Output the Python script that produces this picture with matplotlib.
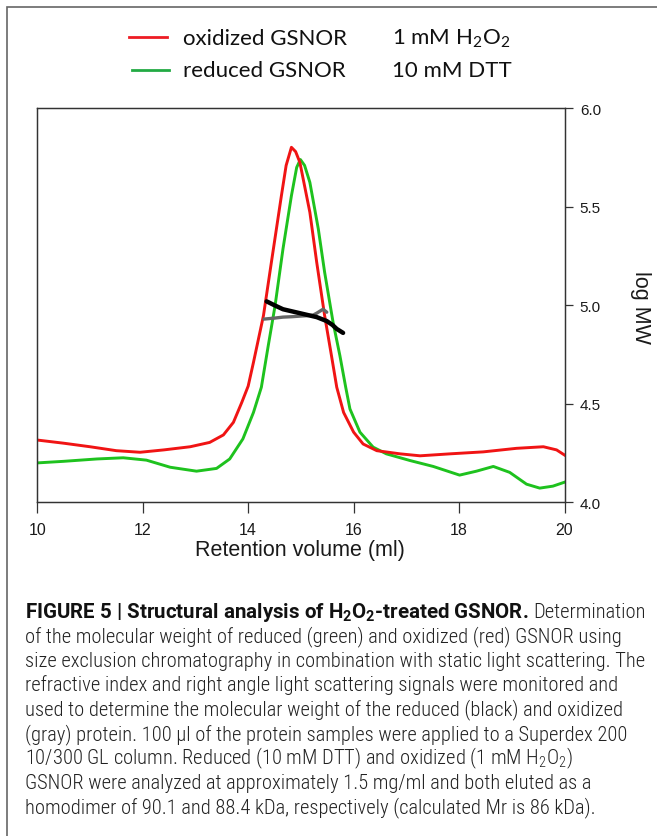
import matplotlib
matplotlib.use('Agg')
import matplotlib.pyplot as plt
from matplotlib.lines import Line2D
from matplotlib.patches import Rectangle
from matplotlib.ticker import FormatStrFormatter
from matplotlib import font_manager

plt.rcParams['mathtext.default'] = 'regular'

# ---------------- data ----------------
vol_oxidized = [10.0, 10.5, 11.0, 11.5, 11.95, 12.4, 12.9, 13.27, 13.53, 13.72, 13.88, 14.0,
                14.1, 14.29, 14.44, 14.63, 14.72, 14.82, 14.9, 14.98, 15.17, 15.3, 15.45,
                15.58, 15.68, 15.81, 16.0, 16.18, 16.44, 16.88, 17.26, 17.83, 18.46, 19.09,
                19.6, 19.85, 20.0]
sig_oxidized = [15.8, 15.0, 14.1, 13.1, 12.7, 13.3, 14.1, 15.2, 17.1, 20.3, 25.4, 29.5,
                35.5, 47.4, 60.9, 77.8, 85.5, 90.1, 89.0, 86.3, 73.6, 60.9, 47.4,
                37.2, 29.2, 22.8, 17.8, 14.8, 13.1, 12.3, 11.8, 12.3, 12.8, 13.7,
                14.1, 13.3, 12.0]

vol_reduced = [10.0, 10.5, 11.13, 11.63, 12.07, 12.52, 13.02, 13.4, 13.65, 13.9, 14.1, 14.25,
               14.38, 14.51, 14.66, 14.82, 14.92, 14.99, 15.07, 15.17, 15.33, 15.45, 15.61,
               15.74, 15.85, 15.93, 16.12, 16.37, 16.62, 17.07, 17.51, 18.01, 18.33, 18.65,
               18.96, 19.28, 19.53, 19.78, 20.0]
sig_reduced = [10.0, 10.4, 11.0, 11.3, 10.7, 8.9, 7.9, 8.6, 11.0, 16.1, 22.8, 29.2,
               39.7, 49.9, 64.3, 77.8, 85.0, 87.0, 85.5, 81.2, 69.4, 58.4, 45.7,
               37.2, 29.2, 23.7, 17.8, 14.0, 12.3, 10.6, 9.1, 6.9, 7.9, 9.1,
               7.6, 4.6, 3.6, 4.1, 5.1]

mw_vol_reduced = [14.35, 14.5, 14.66, 14.82, 14.98, 15.14, 15.3, 15.49, 15.6, 15.68, 15.8]
logmw_reduced = [5.02, 5.0, 4.98, 4.97, 4.96, 4.95, 4.94, 4.92, 4.9, 4.88, 4.86]
mw_vol_oxidized = [14.3, 14.5, 14.66, 14.82, 14.98, 15.1, 15.23, 15.3, 15.36, 15.42, 15.49]
logmw_oxidized = [4.93, 4.935, 4.94, 4.942, 4.945, 4.947, 4.95, 4.96, 4.97, 4.98, 4.965]

x_ticks = [10, 12, 14, 16, 18, 20]
y_ticks = [4.0, 4.5, 5.0, 5.5, 6.0]

legend_names = ['oxidized GSNOR', 'reduced GSNOR']
legend_conditions = ['1 mM H$_2$O$_2$', '10 mM DTT']

caption_bold = 'FIGURE 5 | Structural analysis of H$_2$O$_2$-treated GSNOR.'
caption_lines = [
    'Determination',
    'of the molecular weight of reduced (green) and oxidized (red) GSNOR using',
    'size exclusion chromatography in combination with static light scattering. The',
    'refractive index and right angle light scattering signals were monitored and',
    'used to determine the molecular weight of the reduced (black) and oxidized',
    '(gray) protein. 100 \u03bcl of the protein samples were applied to a Superdex 200',
    '10/300 GL column. Reduced (10 mM DTT) and oxidized (1 mM H$_2$O$_2$)',
    'GSNOR were analyzed at approximately 1.5 mg/ml and both eluted as a',
    'homodimer of 90.1 and 88.4 kDa, respectively (calculated Mr is 86 kDa).',
]

# ---------------- figure ----------------
W, H = 657, 837
fig = plt.figure(figsize=(W / 100, H / 100), dpi=100)
fig.patch.set_facecolor('white')


def fx(px):
    return px / W


def fy(py):
    return 1 - py / H


# pick a condensed family for the caption if one is installed
installed = {f.name for f in font_manager.fontManager.ttflist}
cap_font = 'Liberation Sans'
for cand in ['Roboto Condensed', 'Liberation Sans Narrow', 'Open Sans Condensed',
             'Noto Sans Condensed', 'DejaVu Sans Condensed']:
    if cand in installed:
        cap_font = cand
        break
bold_font = 'Roboto' if 'Roboto' in installed else 'Liberation Sans'

# outer border
fig.add_artist(Rectangle((fx(7), -0.1), 1.2, fy(8) + 0.1, transform=fig.transFigure,
                         fill=False, edgecolor='#666666', lw=1.2))

axis_font = 'Liberation Sans'
ax = fig.add_axes([fx(37.3), fy(503.3), fx(564.5) - fx(37.3), fy(109.3) - fy(503.3)])
ax.plot(vol_oxidized, sig_oxidized, color='#f01414', lw=2.1, zorder=3)
ax.plot(vol_reduced, sig_reduced, color='#1ec21e', lw=2.1, zorder=2)
ax.set_xlim(10, 20)
ax.set_ylim(0, 100)
ax.set_yticks([])
ax.set_xticks(x_ticks)
ax.set_xticklabels([str(v) for v in x_ticks], family=axis_font)
ax.tick_params(axis='x', direction='out', length=8, width=0.9, pad=6, labelsize=11.5,
               colors='#333333', labelcolor='#1a1a1a')
for s in ax.spines.values():
    s.set_color('#333333')
    s.set_linewidth(0.9)

ax2 = ax.twinx()
ax2.plot(mw_vol_oxidized, logmw_oxidized, color='#666666', lw=2.4, solid_capstyle='round')
ax2.plot(mw_vol_reduced, logmw_reduced, color='black', lw=3.2, solid_capstyle='round')
ax2.set_ylim(4.0, 6.0)
ax2.set_yticks(y_ticks)
ax2.yaxis.set_major_formatter(FormatStrFormatter('%.1f'))
for lab in ax2.get_yticklabels():
    lab.set_family(axis_font)
ax2.tick_params(axis='y', direction='out', length=6, width=0.9, pad=5, labelsize=11,
                colors='#333333', labelcolor='#1a1a1a')
for s in ax2.spines.values():
    s.set_color('#333333')
    s.set_linewidth(0.9)

fig.text(fx(300), fy(551), 'Retention volume (ml)', family=axis_font, fontsize=15.5,
         ha='center', va='center', color='#1a1a1a')
fig.text(fx(640), fy(307), 'log MW', family=axis_font, fontsize=15.5, rotation=270,
         ha='center', va='center', color='#1a1a1a')

# legend
leg_font = 'Lato'
leg_colors = ['#ee1c24', '#22aa44']
leg_line_x = [(129, 167), (131.5, 169)]
leg_line_y = [38.3, 70.7]
leg_base_y = [45, 77]
for i in range(2):
    fig.add_artist(Line2D([fx(leg_line_x[i][0]), fx(leg_line_x[i][1])],
                          [fy(leg_line_y[i]), fy(leg_line_y[i])],
                          transform=fig.transFigure, color=leg_colors[i], lw=2))
    fig.text(fx(183), fy(leg_base_y[i]), legend_names[i], family=leg_font, fontsize=16,
             ha='left', va='baseline', color='#111111')
    fig.text(fx(392), fy(leg_base_y[i]), legend_conditions[i], family=leg_font, fontsize=16,
             ha='left', va='baseline', color='#111111')

# caption
renderer = fig.canvas.get_renderer()
probe = fig.text(0, 0, caption_lines[2], family=cap_font, fontsize=10, fontweight=300)
w10 = probe.get_window_extent(renderer).width
probe.remove()
cap_fs = 10 * 620 / w10

x0 = 25
base0 = 618
step = 24.4
tb = fig.text(fx(x0), fy(base0), caption_bold, family=bold_font, fontsize=cap_fs * 1.0,
              fontweight='bold', ha='left', va='baseline', color='#111111')
bb = tb.get_window_extent(renderer)
p1 = fig.text(0, 0, 'a a', family=cap_font, fontsize=cap_fs, fontweight=300)
p2 = fig.text(0, 0, 'aa', family=cap_font, fontsize=cap_fs, fontweight=300)
space_w = p1.get_window_extent(renderer).width - p2.get_window_extent(renderer).width
p1.remove()
p2.remove()
fig.text((bb.x1 + space_w) / W, fy(base0), caption_lines[0], family=cap_font, fontsize=cap_fs,
         fontweight=300, ha='left', va='baseline', color='#222222')
for k, line in enumerate(caption_lines[1:], start=1):
    fig.text(fx(x0), fy(base0 + k * step), line, family=cap_font, fontsize=cap_fs,
             fontweight=300, ha='left', va='baseline', color='#222222')

fig.savefig('out.png', dpi=100)
